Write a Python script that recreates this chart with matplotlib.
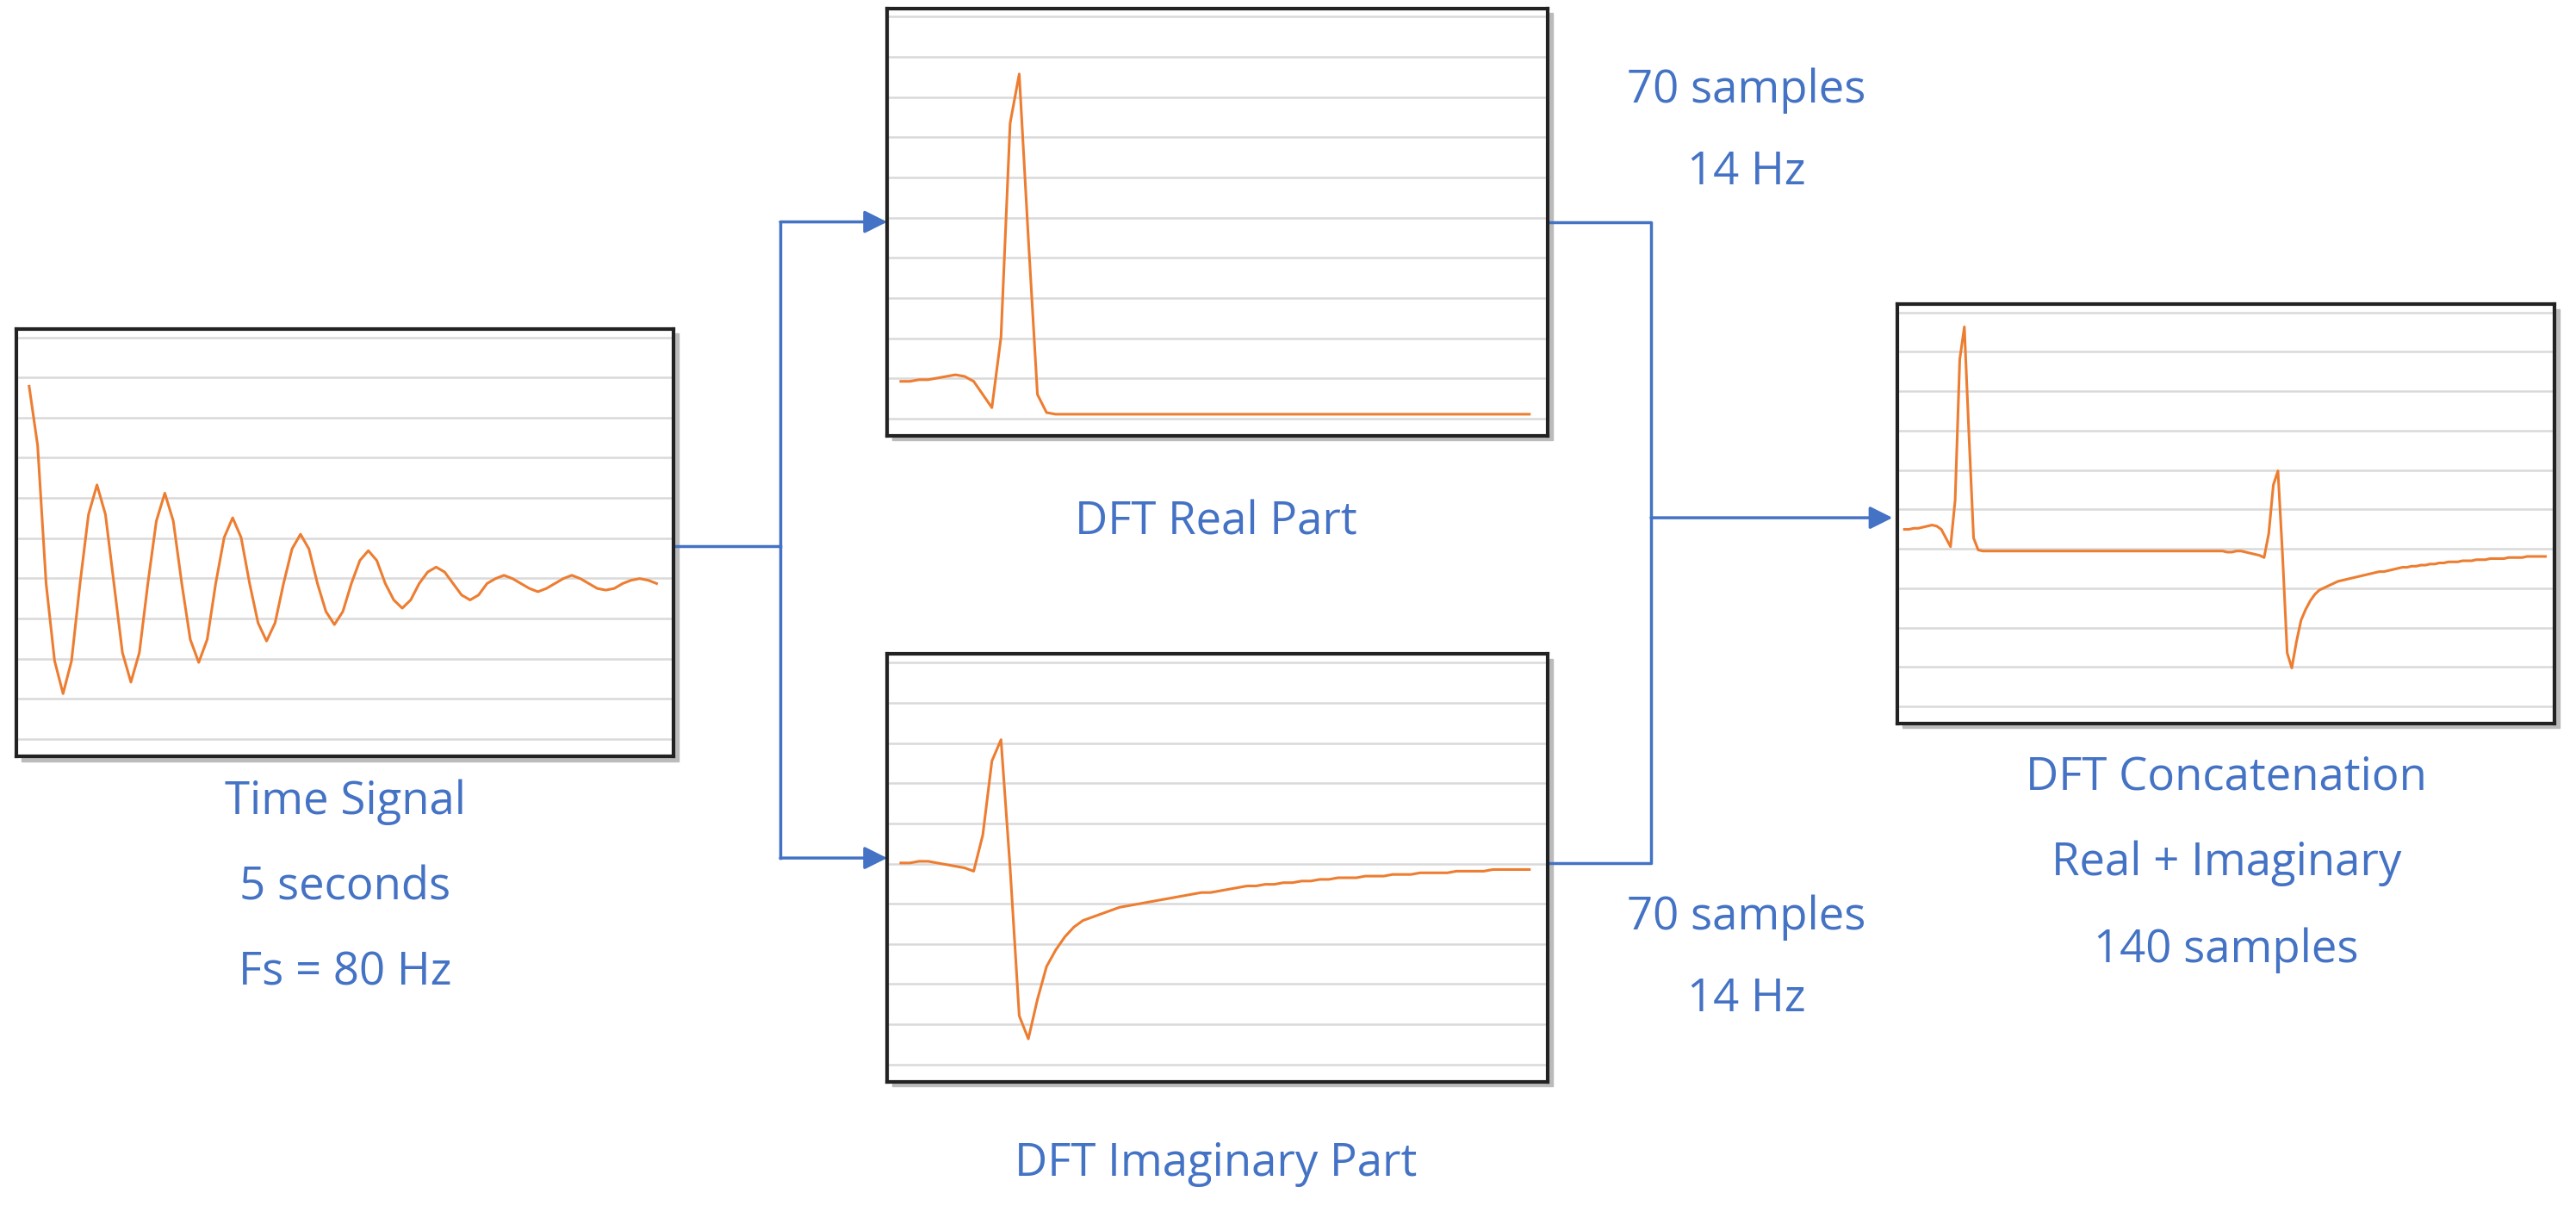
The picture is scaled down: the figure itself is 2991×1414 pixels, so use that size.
import numpy as np
import matplotlib.pyplot as plt
from matplotlib.patches import FancyArrowPatch

# time signal, offsets from centre (rough pixel units)
time_signal = [120, 84, 0, -47, -67, -47, 0, 42, 60, 42, 0, -42, -60, -42, 0, 38,
               55, 38, 0, -34, -48, -34, 0, 28, 40, 28, 0, -24, -35, -24, 0, 21,
               30, 21, 0, -17, -25, -17, 0, 14, 20, 14, 0, -10, -15, -10, 0, 7,
               10, 7, 0, -7, -10, -7, 0, 3, 5, 3, 0, -3, -5, -3, 0, 3, 5, 3, 0,
               -3, -4, -3, 0, 2, 3, 2, 0]

dft_real = [33, 33, 34, 34, 35, 36, 37, 36, 33, 25, 17, 60, 190, 220, 120, 25, 14,
            13, 13, 13, 13, 13, 13, 13, 13, 13, 13, 13, 13, 13, 13, 13, 13, 13, 13,
            13, 13, 13, 13, 13, 13, 13, 13, 13, 13, 13, 13, 13, 13, 13, 13, 13, 13,
            13, 13, 13, 13, 13, 13, 13, 13, 13, 13, 13, 13, 13, 13, 13, 13, 13]

dft_imag = [133, 133, 134, 134, 133, 132, 131, 130, 128, 150, 195, 208, 130, 40, 26,
            50, 70, 80, 88, 94, 98, 100, 102, 104, 106, 107, 108, 109, 110, 111, 112,
            113, 114, 115, 115, 116, 117, 118, 119, 119, 120, 120, 121, 121, 122, 122,
            123, 123, 124, 124, 124, 125, 125, 125, 126, 126, 126, 127, 127, 127, 127,
            128, 128, 128, 128, 129, 129, 129, 129, 129]

real_base = 12
imag_base = 133

W, H = 1568, 741
ORANGE = '#ED7D31'
BLUE = '#4472C4'
plt.rcParams['font.family'] = ['Open Sans', 'DejaVu Sans']

fig = plt.figure(figsize=(29.91, 14.14), dpi=100)
bg = fig.add_axes([0, 0, 1, 1], zorder=0)
bg.set_xlim(0, W)
bg.set_ylim(H, 0)
bg.axis('off')


def panel(x0, y0, x1, y1, values, ylim):
    ax = fig.add_axes([x0 / W, 1 - y1 / H, (x1 - x0) / W, (y1 - y0) / H], zorder=2)
    ax.plot(range(len(values)), values, color=ORANGE, lw=2.2)
    ax.set_xlim(-1.5, len(values) + 1)
    ax.set_ylim(*ylim)
    for f in np.arange(0.04, 1.0, 0.094):
        ax.plot([0, 1], [f, f], color='#d9d9d9', lw=1.8, zorder=0, transform=ax.transAxes)
    ax.set_xticks([])
    ax.set_yticks([])
    for s in ax.spines.values():
        s.set_linewidth(3)
        s.set_color('#222222')
    # faint shadow
    bg.add_patch(plt.Rectangle((x0 + 3, y0 + 3), x1 - x0, y1 - y0, color='#bbbbbb', zorder=1))
    return ax


panel(10, 200, 410, 460, time_signal, (-105, 155))
panel(540, 5, 942, 265, dft_real, (0, 260))
panel(540, 398, 942, 658, dft_imag, (0, 260))
concat = [v - real_base for v in dft_real] + [v - imag_base for v in dft_imag]
panel(1155, 185, 1555, 440, concat, (-158, 229))

lw = 2.5
bg.plot([410, 475], [332, 332], color=BLUE, lw=lw)
bg.plot([475, 475], [135, 522], color=BLUE, lw=lw)
bg.plot([942, 1005, 1005, 942], [135, 135, 525, 525], color=BLUE, lw=lw)
for (xa, ya, xb, yb) in [(475, 135, 540, 135), (475, 522, 540, 522), (1005, 315, 1152, 315)]:
    bg.add_patch(FancyArrowPatch((xa, ya), (xb, yb), arrowstyle='-|>', mutation_scale=40,
                                 color=BLUE, lw=lw, shrinkA=0, shrinkB=0))

texts = [
    (210, 488, 'Time Signal'), (210, 540, '5 seconds'), (210, 592, 'Fs = 80 Hz'),
    (740, 318, 'DFT Real Part'), (740, 708, 'DFT Imaginary Part'),
    (1063, 55, '70 samples'), (1063, 105, '14 Hz'),
    (1063, 558, '70 samples'), (1063, 608, '14 Hz'),
    (1355, 473, 'DFT Concatenation'), (1355, 525, 'Real + Imaginary'), (1355, 578, '140 samples'),
]
for x, y, t in texts:
    bg.text(x, y, t, color=BLUE, fontsize=38, ha='center', va='center')

fig.savefig('out.png', dpi=100, facecolor='white')
